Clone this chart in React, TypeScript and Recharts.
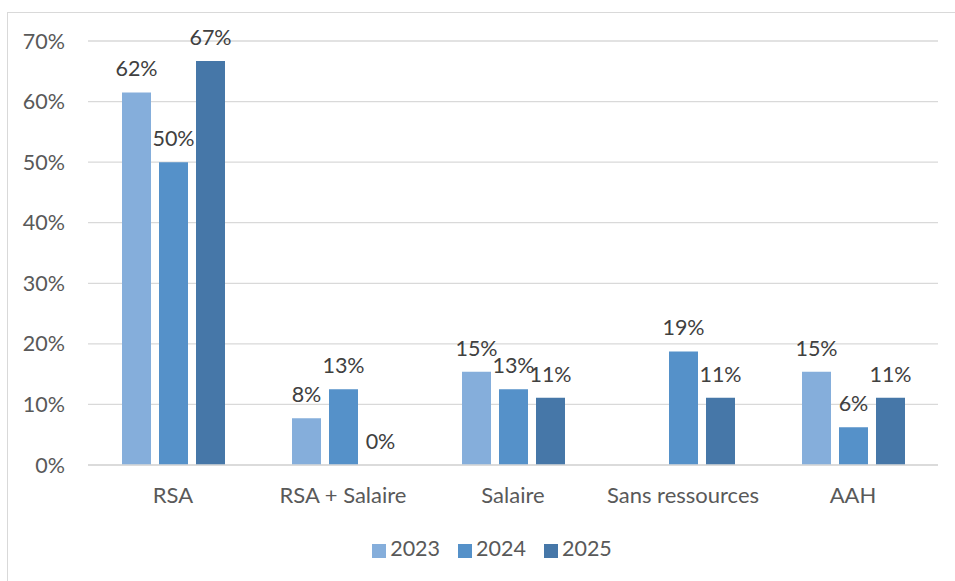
import React from 'react';
import { BarChart, Bar, XAxis, YAxis, CartesianGrid, Legend, LabelList } from 'recharts';

const categories = ['RSA', 'RSA + Salaire', 'Salaire', 'Sans ressources', 'AAH'];
const values2023: (number | null)[] = [61.5, 7.7, 15.4, null, 15.4];
const values2024: (number | null)[] = [50, 12.5, 12.5, 18.75, 6.25];
const values2025: (number | null)[] = [66.7, 0, 11.1, 11.1, 11.1];
const yTicks = [0, 10, 20, 30, 40, 50, 60, 70];

const data = categories.map((c, i) => ({
  name: c,
  y2023: values2023[i],
  y2024: values2024[i],
  y2025: values2025[i],
}));

const FONT = 'Lato, "Open Sans", sans-serif';
const TXT = '#595959';

const fmt = (v: any) => (v === null || v === undefined ? '' : `${Math.round(Number(v))}%`);
const minSize = (v: any) => (v === 0 ? 0.01 : 0);

export default function App() {
  return (
    <div style={{ position: 'absolute', left: 0, top: 0, width: 955, height: 581, background: '#fff', overflow: 'hidden' }}>
      <div style={{ position: 'absolute', left: 7, top: 12, width: 960, height: 580, border: '1px solid #d9d9d9', boxSizing: 'border-box' }} />
      <div style={{ position: 'absolute', left: 0, top: 0 }}>
        <BarChart
          width={955}
          height={581}
          data={data}
          margin={{ top: 41, right: 17, bottom: 0, left: 0 }}
          barSize={29}
          barGap={8}
          style={{ fontFamily: FONT }}
        >
          <CartesianGrid vertical={false} stroke="#d9d9d9" strokeWidth={1.3} />
          <XAxis
            dataKey="name"
            height={90}
            axisLine={{ stroke: '#d9d9d9', strokeWidth: 1.3 }}
            tickLine={false}
            tick={{ fill: TXT, fontSize: 22, fontFamily: FONT }}
            tickMargin={16}
          />
          <YAxis
            width={88}
            domain={[0, 70]}
            ticks={yTicks}
            interval={0}
            axisLine={false}
            tickLine={false}
            tickFormatter={(v: number) => `${v}%`}
            tick={{ fill: TXT, fontSize: 21.5, fontFamily: FONT }}
            tickMargin={17}
          />
          <Legend
            verticalAlign="bottom"
            align="center"
            iconType="square"
            iconSize={14}
            wrapperStyle={{ fontFamily: FONT, fontSize: 21.5, color: TXT, bottom: 20, left: 32 }}
            formatter={(value: string) => <span style={{ color: TXT, marginRight: 8 }}>{value}</span>}
          />
          <Bar dataKey="y2023" name="2023" fill="#85AEDB" isAnimationActive={false} minPointSize={minSize}>
            <LabelList dataKey="y2023" position="top" offset={16} formatter={fmt} fill="#404040" fontSize={21.5} fontFamily={FONT} />
          </Bar>
          <Bar dataKey="y2024" name="2024" fill="#5591C9" isAnimationActive={false} minPointSize={minSize}>
            <LabelList dataKey="y2024" position="top" offset={16} formatter={fmt} fill="#404040" fontSize={21.5} fontFamily={FONT} />
          </Bar>
          <Bar dataKey="y2025" name="2025" fill="#4677A8" isAnimationActive={false} minPointSize={minSize}>
            <LabelList dataKey="y2025" position="top" offset={16} formatter={fmt} fill="#404040" fontSize={21.5} fontFamily={FONT} />
          </Bar>
        </BarChart>
      </div>
    </div>
  );
}
